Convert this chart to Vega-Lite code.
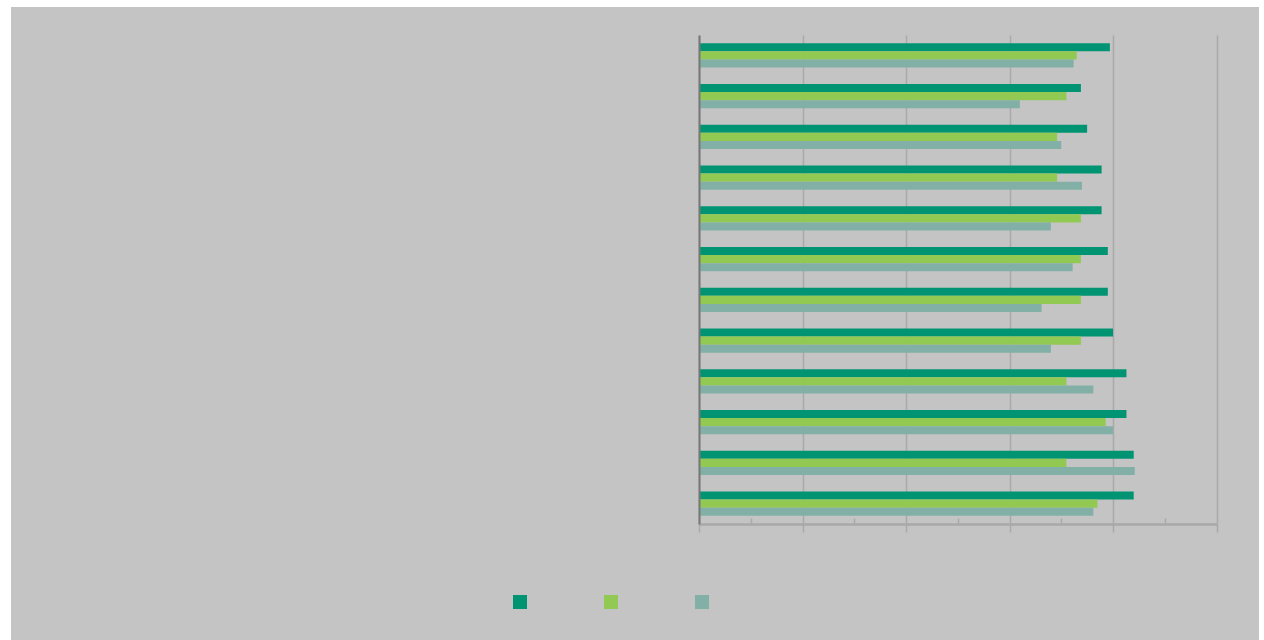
{
  "$schema": "https://vega.github.io/schema/vega-lite/v6.json",
  "autosize": {"type": "none"},
  "padding": {"left": 11, "top": 7, "right": 5, "bottom": 0},
  "width": 1248,
  "height": 633,
  "background": "#ffffff",
  "config": {
    "view": {"stroke": null, "fill": "#c4c4c4"},
    "axis": {"labels": false, "title": null}
  },
  "data": {
    "values": [
      {"cat": "01", "series": "S1", "value": 3.97}, {"cat": "01", "series": "S2", "value": 3.65}, {"cat": "01", "series": "S3", "value": 3.62},
      {"cat": "02", "series": "S1", "value": 3.69}, {"cat": "02", "series": "S2", "value": 3.55}, {"cat": "02", "series": "S3", "value": 3.10},
      {"cat": "03", "series": "S1", "value": 3.75}, {"cat": "03", "series": "S2", "value": 3.46}, {"cat": "03", "series": "S3", "value": 3.50},
      {"cat": "04", "series": "S1", "value": 3.89}, {"cat": "04", "series": "S2", "value": 3.46}, {"cat": "04", "series": "S3", "value": 3.70},
      {"cat": "05", "series": "S1", "value": 3.89}, {"cat": "05", "series": "S2", "value": 3.69}, {"cat": "05", "series": "S3", "value": 3.40},
      {"cat": "06", "series": "S1", "value": 3.95}, {"cat": "06", "series": "S2", "value": 3.69}, {"cat": "06", "series": "S3", "value": 3.61},
      {"cat": "07", "series": "S1", "value": 3.95}, {"cat": "07", "series": "S2", "value": 3.69}, {"cat": "07", "series": "S3", "value": 3.31},
      {"cat": "08", "series": "S1", "value": 4.00}, {"cat": "08", "series": "S2", "value": 3.69}, {"cat": "08", "series": "S3", "value": 3.40},
      {"cat": "09", "series": "S1", "value": 4.13}, {"cat": "09", "series": "S2", "value": 3.55}, {"cat": "09", "series": "S3", "value": 3.81},
      {"cat": "10", "series": "S1", "value": 4.13}, {"cat": "10", "series": "S2", "value": 3.93}, {"cat": "10", "series": "S3", "value": 4.00},
      {"cat": "11", "series": "S1", "value": 4.20}, {"cat": "11", "series": "S2", "value": 3.55}, {"cat": "11", "series": "S3", "value": 4.21},
      {"cat": "12", "series": "S1", "value": 4.20}, {"cat": "12", "series": "S2", "value": 3.85}, {"cat": "12", "series": "S3", "value": 3.81}
    ]
  },
  "resolve": {"axis": {"x": "independent"}},
  "layer": [
    {
      "mark": {"type": "bar", "cornerRadius": 0},
      "encoding": {
        "y": {
          "field": "cat", "type": "nominal",
          "scale": {"range": [28, 517], "paddingInner": 0.4, "paddingOuter": 0.2},
          "axis": {"labels": false, "ticks": false, "domain": true, "domainColor": "#777777", "domainWidth": 2, "grid": false, "offset": -688, "zindex": 1}
        },
        "yOffset": {"field": "series", "type": "nominal", "scale": {"paddingInner": 0, "paddingOuter": 0}},
        "x": {
          "field": "value", "type": "quantitative",
          "scale": {"domain": [0, 5], "nice": false, "range": [688, 1205.5]},
          "axis": {"values": [0, 1, 2, 3, 4, 5], "labels": false, "grid": false, "domainColor": "#a9a9a9", "domainWidth": 2.5, "tickColor": "#a9a9a9", "tickWidth": 1.5, "tickSize": 8, "offset": -116}
        },
        "color": {
          "field": "series", "type": "nominal",
          "scale": {"domain": ["S1", "S2", "S3"], "range": ["#009473", "#92c953", "#82b0a6"]},
          "legend": {
            "orient": "none", "legendX": 502, "legendY": 588, "direction": "horizontal",
            "title": null, "symbolType": "square", "symbolSize": 196, "symbolStrokeWidth": 0, "symbolOpacity": 1,
            "labelExpr": "''", "labelOffset": 0, "columnPadding": 77, "padding": 0
          }
        }
      }
    },
    {
      "mark": {"type": "bar", "opacity": 0},
      "encoding": {
        "y": {"field": "cat", "type": "nominal"},
        "yOffset": {"field": "series", "type": "nominal"},
        "x": {
          "field": "value", "type": "quantitative",
          "axis": {"orient": "top", "offset": -517, "values": [0.5, 1.5, 2.5, 3.5, 4.5], "labels": false, "grid": false, "domain": false, "tickColor": "#a9a9a9", "tickWidth": 1.5, "tickSize": 6}
        }
      }
    },
    {
      "mark": {"type": "bar", "opacity": 0},
      "encoding": {
        "y": {"field": "cat", "type": "nominal"},
        "yOffset": {"field": "series", "type": "nominal"},
        "x": {
          "field": "value", "type": "quantitative",
          "axis": {"orient": "top", "offset": 0, "values": [0, 1, 2, 3, 4, 5], "labels": false, "grid": true, "gridColor": "#a9a9a9", "gridWidth": 1.5, "domain": false, "ticks": false}
        }
      }
    }
  ]
}
